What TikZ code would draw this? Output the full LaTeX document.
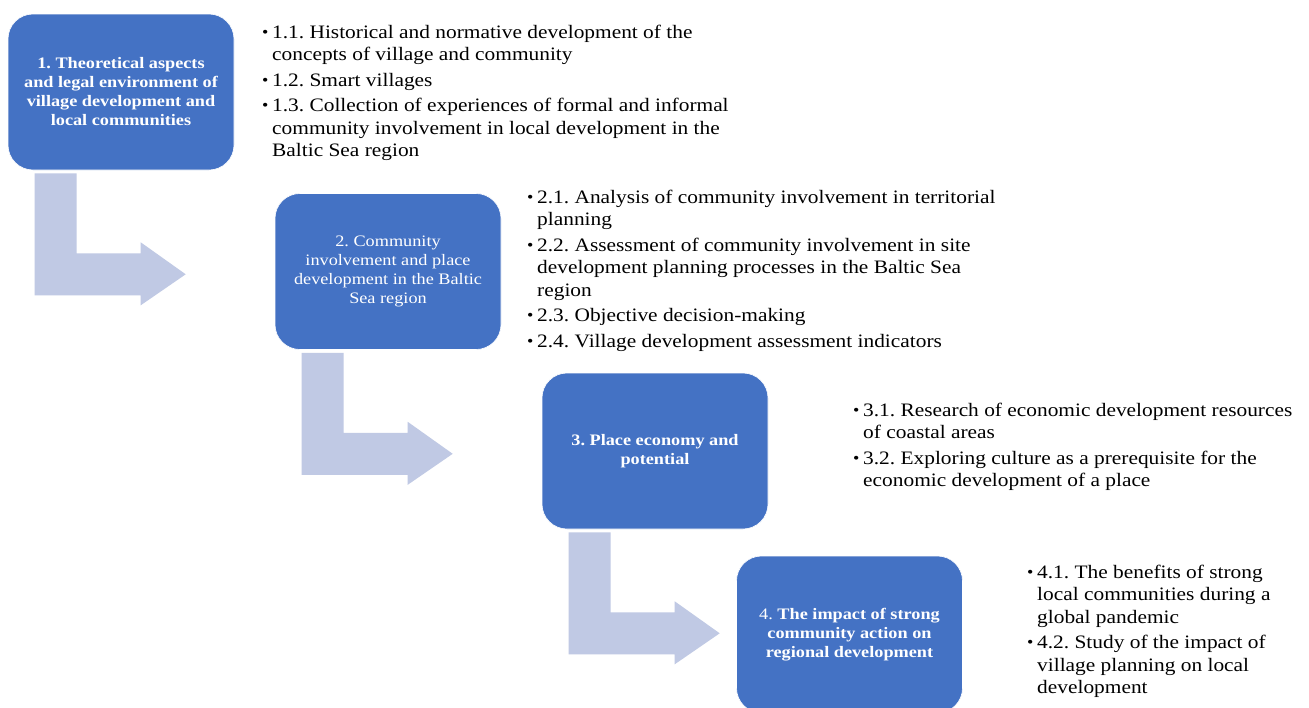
\documentclass[tikz,border=0pt]{standalone}
\usepackage{fontspec}
\setmainfont[FakeStretch=1.14]{Liberation Serif}
\newfontfamily\listfont[FakeStretch=1.125]{Liberation Serif}
\usetikzlibrary{calc}
\definecolor{boxblue}{HTML}{4472C4}
\definecolor{arrowblue}{HTML}{C0C9E4}
\newcommand{\bl}{\makebox[10pt][l]{\raisebox{0.8pt}{\fontsize{16}{16}\selectfont •}}}
\frenchspacing
\begin{document}
\begin{tikzpicture}[x=1pt,y=-1pt,
  box/.style={fill=boxblue, draw=white, line width=0.6pt, rounded corners=25pt,
    minimum width=226pt, minimum height=156pt, inner sep=0pt,
    text=white, align=center, font=\fontsize{16}{19}\selectfont},
  blist/.style={anchor=base west, inner sep=0pt, font=\listfont\fontsize{19}{22.5}\selectfont},
  bentarrow/.style={fill=arrowblue, draw=none}]
\clip (0,0) rectangle (1309,707);
\fill[white] (0,0) rectangle (1309,707);

\node[box] (b1) at (121,92) {\bfseries 1. Theoretical aspects\\\bfseries and legal environment of\\\bfseries village development and\\\bfseries local communities};
\node[box] (b2) at (388,271.5) {2. Community\\involvement and place\\development in the Baltic\\Sea region};
\node[box] (b3) at (655,451) {\bfseries 3. Place economy and\\\bfseries potential};
\node[box, minimum height=157pt] (b4) at (849.5,634.5) {4. \bfseries The impact of strong\\\bfseries community action on\\\bfseries regional development};

\foreach \b in {b1,b2,b3}{
  \fill[bentarrow, shift={(\b.south west)}] (27,3) -- (69,3) -- (69,83) -- (133,83) -- (133,72) -- (178,104) -- (133,135) -- (133,125) -- (27,125) -- cycle;
}

\node[blist] (l1) at (262,38) {\begin{tabular}[t]{@{}l@{}l@{}}
\bl & 1.1. Historical and normative development of the\\
 & concepts of village and community\\[3pt]
\bl & 1.2. Smart villages\\[3pt]
\bl & 1.3. Collection of experiences of formal and informal\\
 & community involvement in local development in the\\
 & Baltic Sea region
\end{tabular}};

\node[blist] (l2) at (527,203) {\begin{tabular}[t]{@{}l@{}l@{}}
\bl & 2.1. Analysis of community involvement in territorial\\
 & planning\\[3pt]
\bl & 2.2. Assessment of community involvement in site\\
 & development planning processes in the Baltic Sea\\
 & region\\[3pt]
\bl & 2.3. Objective decision-making\\[3pt]
\bl & 2.4. Village development assessment indicators
\end{tabular}};

\node[blist] (l3) at (853,416) {\begin{tabular}[t]{@{}l@{}l@{}}
\bl & 3.1. Research of economic development resources\\
 & of coastal areas\\[3pt]
\bl & 3.2. Exploring culture as a prerequisite for the\\
 & economic development of a place
\end{tabular}};

\node[blist] (l4) at (1027,578) {\begin{tabular}[t]{@{}l@{}l@{}}
\bl & 4.1. The benefits of strong\\
 & local communities during a\\
 & global pandemic\\[3pt]
\bl & 4.2. Study of the impact of\\
 & village planning on local\\
 & development
\end{tabular}};
\end{tikzpicture}
\end{document}
